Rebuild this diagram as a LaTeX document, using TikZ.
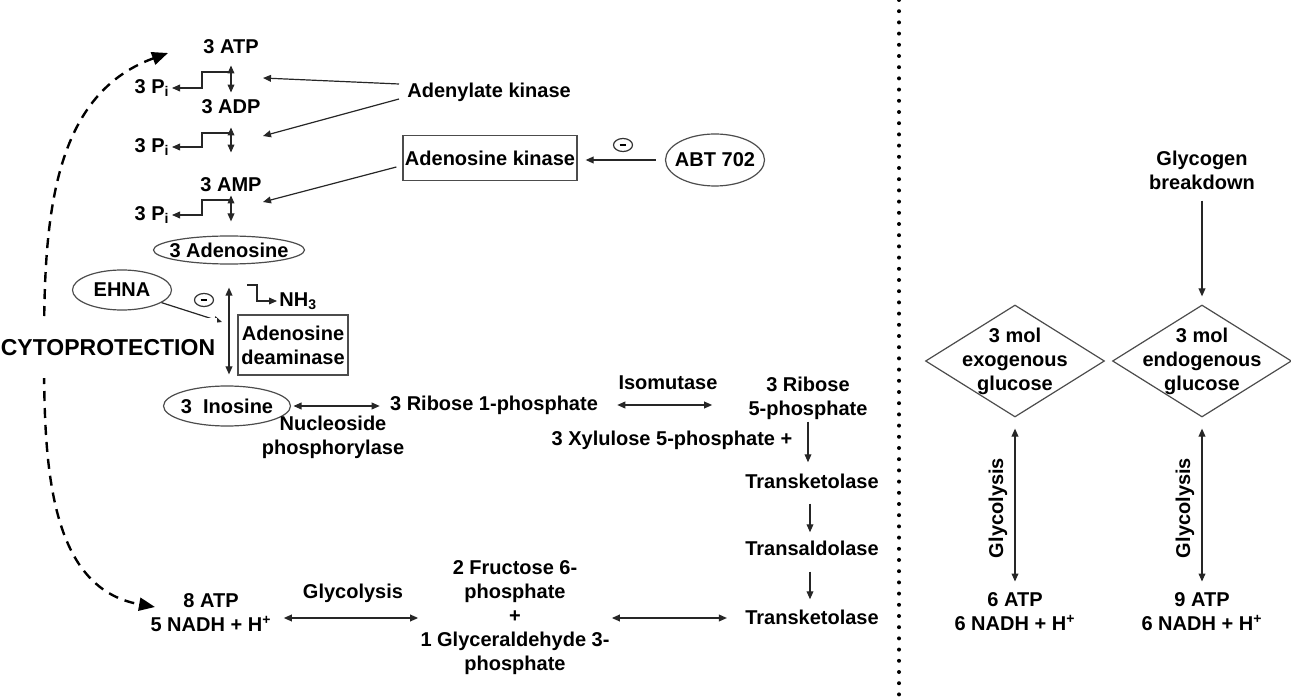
\documentclass[tikz,border=0pt]{standalone}
\usepackage{fontspec}
\setmainfont{Liberation Sans}
\usetikzlibrary{arrows.meta,shapes.geometric}
\tikzset{
  lbl/.style={font=\fontsize{10}{12}\selectfont\bfseries, align=center, inner sep=1pt},
  oval/.style={lbl, ellipse, draw=black!70, line width=0.6pt, inner sep=0pt},
  box/.style={lbl, draw=black!70, line width=0.6pt},
  dia/.style={diamond, draw=black!70, line width=0.6pt, minimum width=89.5pt, minimum height=56pt, inner sep=0pt},
  neg/.style={ellipse, draw=black!80, line width=0.6pt, minimum width=9.5pt, minimum height=6.5pt, inner sep=0pt},
  arr/.style={draw=black!85, line width=0.6pt, -{Triangle[length=4pt,width=3.4pt]}},
  darr/.style={draw=black!85, line width=0.6pt, {Triangle[length=4pt,width=3.4pt]}-{Triangle[length=4pt,width=3.4pt]}},
  cyto/.style={line width=1.2pt, dash pattern=on 5pt off 3.5pt, {Triangle[length=8pt,width=6.5pt]}-{Triangle[length=8pt,width=6.5pt]}},
}
\newcommand{\nobox}[1]{\makebox[0pt]{#1}}
\newcommand{\minus}{\rule[-0.7pt]{3.4pt}{1.4pt}}
\begin{document}
\begin{tikzpicture}[x=0.5pt,y=-0.5pt]
\useasboundingbox (0,0) rectangle (1291,700);
\node[lbl] (atp3) at (231,47){3 ATP};
\node[lbl] (adp3) at (231,107){3 ADP};
\node[lbl] (amp3) at (231,185){3 AMP};
\node[lbl, anchor=east] (pi1) at (172,88){3 P\textsubscript{i}};
\node[lbl, anchor=east] (pi2) at (172,147){3 P\textsubscript{i}};
\node[lbl, anchor=east] (pi3) at (172,215){3 P\textsubscript{i}};
\coordinate (st1) at (231,72);
\coordinate (st2) at (231,133);
\coordinate (st3) at (231,200);
\draw[darr, shorten <=4.5pt, shorten >=2.5pt] (atp3) -- (adp3);
\draw[darr, shorten <=5.5pt, shorten >=11.5pt] (adp3) -- (amp3);
\draw[arr] (st1) -- ++(-29,0) |- (pi1);
\draw[arr] (st2) -- ++(-29,0) |- (pi2);
\draw[arr] (st3) -- ++(-29,0) |- (pi3);
\node[lbl, anchor=west] (adk) at (405,92){Adenylate kinase};
\coordinate (k1) at (263,78);
\coordinate (k2) at (263,136);
\coordinate (k3) at (263,202);
\draw[arr] ([shift={(-3pt,4pt)}]adk.west) -- (k1);
\draw[arr] ([shift={(-3pt,-3.5pt)}]adk.west) -- (k2);
\node[box, minimum width=87pt, minimum height=22.5pt] (adok) at (490,158){Adenosine kinase};
\draw[arr] ([shift={(-3pt,-4.5pt)}]adok.west) -- (k3);
\node[oval, minimum width=49.5pt, minimum height=26pt] (abt) at (715,160){\nobox{ABT 702}};
\draw[arr, shorten <=4.5pt, shorten >=4pt] (abt) -- (abt -| adok.east);
\node[neg] (neg1) at (623,145){\minus};
\node[oval, minimum width=75.5pt, minimum height=14pt] (ado) at (229,250){\nobox{3 Adenosine}};
\draw[darr, shorten <=0.5pt, shorten >=7pt] (amp3) -- (amp3 |- ado.north);
\node[oval, minimum width=49.5pt, minimum height=20pt] (ehna) at (122,290){\nobox{EHNA}};
\node[neg] (neg2) at (204,300){\minus};
\coordinate (e1) at (222,322);
\draw[arr] (ehna) -- (e1);
\node[oval, minimum width=63.5pt, minimum height=20pt] (ino) at (227,406){\nobox{3\ \ Inosine}};
\draw[darr, shorten <=11.5pt, shorten >=5.5pt] (ado) -- (ado |- ino.north);
\coordinate (st4) at (247,285);
\node[lbl, anchor=west] (nh3) at (277,301){NH\textsubscript{3}};
\draw[arr] (st4) -- ++(10,0) |- (nh3);
\node[box, minimum width=55pt, minimum height=30pt] (ada) at (293,345){Adenosine\\deaminase};
\node[lbl] (r1p) at (494,405){3 Ribose 1-phosphate};
\draw[darr, shorten <=1.2pt, shorten >=4pt] (ino) -- (ino -| r1p.west);
\node[lbl] (nph) at (333,437){Nucleoside\\phosphorylase};
\node[lbl] (isom) at (668,383){Isomutase};
\node[lbl] (r5p) at (808,398){3 Ribose\\5-phosphate};
\draw[darr, shorten <=8.5pt, shorten >=17pt] (r1p) -- (r1p -| r5p.west);
\node[lbl] (xyl) at (672,440){3 Xylulose 5-phosphate +};
\node[lbl] (tk1) at (812,481){Transketolase};
\node[lbl] (tal) at (812,548){Transaldolase};
\node[lbl] (tk2) at (812,617){Transketolase};
\draw[arr, shorten >=4.5pt] (r5p) -- (r5p |- tk1.north);
\draw[arr, shorten <=6.5pt, shorten >=3pt] ([xshift=-1pt]tk1.south) -- ([xshift=-1pt]tal.north);
\draw[arr, shorten <=7pt, shorten >=4pt] ([xshift=-1pt]tal.south) -- ([xshift=-1pt]tk2.north);
\node[lbl] (atp8) at (211,613){8 ATP\\5 NADH + H\textsuperscript{+}};
\node[lbl] (fru) at (515,618){2 Fructose 6-\\phosphate\\+\\1 Glyceraldehyde 3-\\phosphate};
\node[lbl] (glyc1) at (353,593){Glycolysis};
\draw[darr, shorten <=5pt] (atp8.east |- fru) -- (fru.west);
\draw[darr, shorten >=8pt] (fru.east) -- (fru.east -| tk2.west);
\coordinate (ct) at (168,53);
\coordinate (cm) at (44,350);
\coordinate (cb) at (155,607);
\draw[cyto] (ct) to[out=200,in=90] (cm) to[out=270,in=170] (cb);
\node[lbl, font=\fontsize{11.5}{13}\selectfont\bfseries, fill=white, inner xsep=1pt, inner ysep=11pt] (cytp) at (108,348){CYTOPROTECTION};
\coordinate (dtop) at (899,0);
\coordinate (dbot) at (899,700);
\draw[line width=2pt, line cap=round, dash pattern=on 0pt off 5.6pt] (dtop) -- (dbot);
\node[lbl] (glyb) at (1202,170){Glycogen\\breakdown};
\node[dia] (exo) at (1015,361){};
\node[dia] (endo) at (1202,361){};
\node[lbl] (exot) at (1015,361){3 mol\\exogenous\\glucose};
\node[lbl] (endot) at (1202,361){3 mol\\endogenous\\glucose};
\draw[arr, shorten <=4.5pt, shorten >=4pt] (glyb) -- (endo);
\node[lbl] (atp6) at (1015,612){6 ATP\\6 NADH + H\textsuperscript{+}};
\node[lbl] (atp9) at (1202,612){9 ATP\\6 NADH + H\textsuperscript{+}};
\draw[darr, shorten <=5.5pt, shorten >=4.5pt] (exo) -- (exo |- atp6.north);
\draw[darr, shorten <=5.5pt, shorten >=4.5pt] (endo) -- (endo |- atp9.north);
\node[lbl, rotate=90] (glyc2) at (998,508){Glycolysis};
\node[lbl, rotate=90] (glyc3) at (1185,508){Glycolysis};
\end{tikzpicture}
\end{document}
